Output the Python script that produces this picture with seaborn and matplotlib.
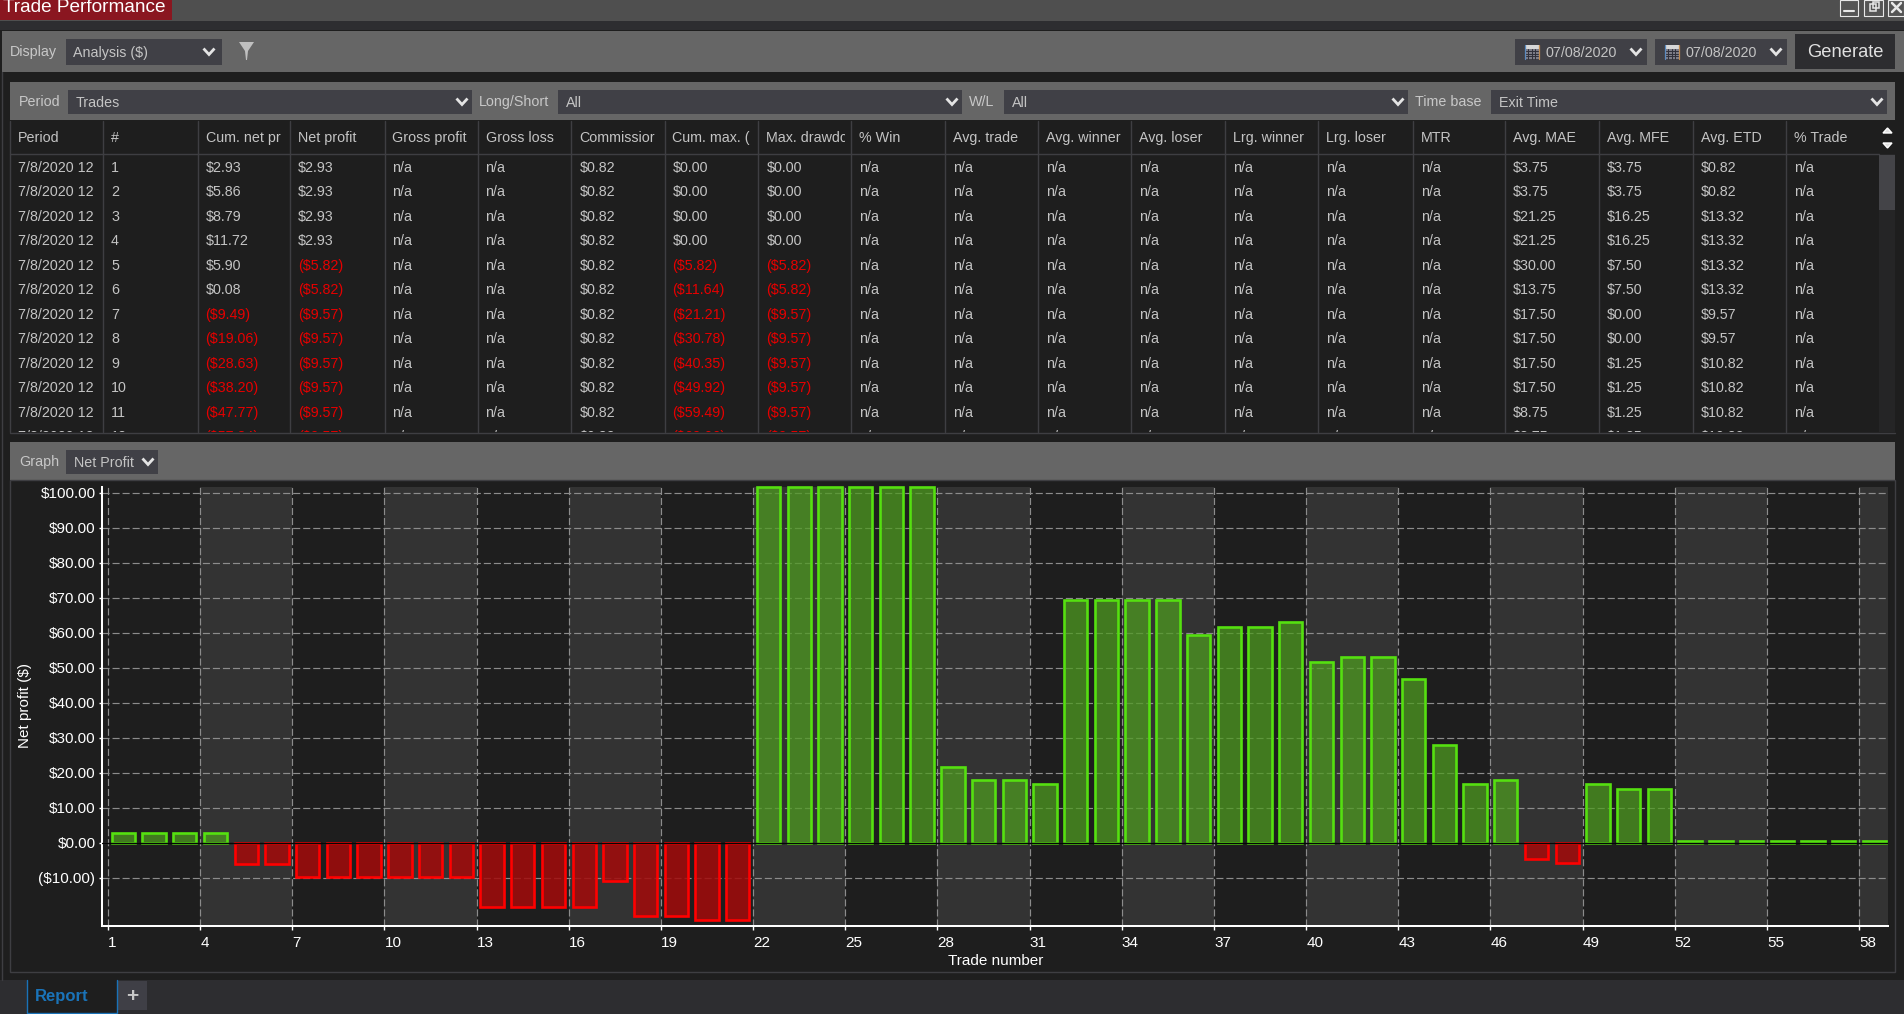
import matplotlib
matplotlib.use("Agg")
import matplotlib.pyplot as plt
from matplotlib.patches import Rectangle, Polygon
from matplotlib.colors import to_rgba
from matplotlib.transforms import ScaledTranslation
import pandas as pd
import seaborn as sns

sns.set_theme(style="dark")
plt.rcParams["font.family"] = ["Liberation Sans", "DejaVu Sans"]

# ---------- chart data ----------
trade_numbers = list(range(1, 59))
net_profit_values = [
    2.93, 2.93, 2.93, 2.93, -5.82, -5.82, -9.57, -9.57, -9.57, -9.57,
    -9.57, -9.57, -18.3, -18.3, -18.3, -18.3, -10.8, -20.8, -20.8, -22.0,
    -22.0, 101.8, 101.8, 101.8, 101.8, 101.8, 101.8, 21.7, 18.1, 18.1,
    16.9, 69.5, 69.5, 69.5, 69.5, 59.4, 61.9, 61.9, 63.2, 51.9,
    53.1, 53.1, 46.9, 28.1, 16.9, 18.1, -4.57, -5.7, 16.9, 15.6,
    15.6, 0.6, 0.6, 0.6, 0.6, 0.6, 0.6, 0.6,
]
y_ticks = [-10, 0, 10, 20, 30, 40, 50, 60, 70, 80, 90, 100]
y_tick_labels = ["($10.00)", "$0.00", "$10.00", "$20.00", "$30.00", "$40.00",
                 "$50.00", "$60.00", "$70.00", "$80.00", "$90.00", "$100.00"]
x_ticks = list(range(1, 59, 3))

# ---------- table data ----------
headers = ["Period", "#", "Cum. net pr", "Net profit", "Gross profit", "Gross loss",
           "Commissior", "Cum. max. (", "Max. drawdc", "% Win", "Avg. trade",
           "Avg. winner", "Avg. loser", "Lrg. winner", "Lrg. loser", "MTR",
           "Avg. MAE", "Avg. MFE", "Avg. ETD", "% Trade"]
period_col = ["7/8/2020 12"] * 12
number_col = [str(i) for i in range(1, 13)]
cum_net_col = ["$2.93", "$5.86", "$8.79", "$11.72", "$5.90", "$0.08", "($9.49)", "($19.06)",
               "($28.63)", "($38.20)", "($47.77)", "($57.34)"]
net_col = ["$2.93"] * 4 + ["($5.82)"] * 2 + ["($9.57)"] * 6
commission_col = ["$0.82"] * 12
cum_max_col = ["$0.00"] * 4 + ["($5.82)", "($11.64)", "($21.21)", "($30.78)", "($40.35)",
                               "($49.92)", "($59.49)", "($69.06)"]
max_dd_col = ["$0.00"] * 4 + ["($5.82)"] * 2 + ["($9.57)"] * 6
mae_col = ["$3.75", "$3.75", "$21.25", "$21.25", "$30.00", "$13.75", "$17.50", "$17.50",
           "$17.50", "$17.50", "$8.75", "$8.75"]
mfe_col = ["$3.75", "$3.75", "$16.25", "$16.25", "$7.50", "$7.50", "$0.00", "$0.00",
           "$1.25", "$1.25", "$1.25", "$1.25"]
etd_col = ["$0.82", "$0.82", "$13.32", "$13.32", "$13.32", "$13.32", "$9.57", "$9.57",
           "$10.82", "$10.82", "$10.82", "$10.82"]
na_col = ["n/a"] * 12
columns = [period_col, number_col, cum_net_col, net_col, na_col, na_col, commission_col,
           cum_max_col, max_dd_col, na_col, na_col, na_col, na_col, na_col, na_col, na_col,
           mae_col, mfe_col, etd_col, na_col]

W, H = 1904, 1014
fig = plt.figure(figsize=(W / 100, H / 100), dpi=100, facecolor="#1e1e1e")
ui = fig.add_axes([0, 0, 1, 1])
ui.set_xlim(0, W)
ui.set_ylim(H, 0)
ui.axis("off")


def box(x0, y0, x1, y1, color, z=1, **kw):
    ui.add_patch(Rectangle((x0, y0), x1 - x0, y1 - y0, facecolor=color, edgecolor="none", zorder=z, **kw))


def label(x, y, s, size=10.3, color="#c4c4c4", ha="left", z=5, **kw):
    return ui.text(x, y + 1, s, fontsize=size, color=color, ha=ha, va="center", zorder=z, **kw)


def chevron(x, y, color="#e4e4e4"):
    ui.plot([x - 5.5, x, x + 5.5], [y - 3, y + 3, y - 3], color=color, lw=2.0, zorder=6,
            solid_capstyle="butt", solid_joinstyle="miter")


def calendar(x, y):
    ui.add_patch(Rectangle((x, y), 14, 14, facecolor="#7c7c86", edgecolor="none", zorder=3))
    ui.add_patch(Rectangle((x, y), 14, 3.5, facecolor="#d8d8d8", edgecolor="none", zorder=4))
    ui.plot([x, x], [y, y + 14], color="#5a8ac0", lw=0.9, zorder=4)
    ui.plot([x + 14, x + 14], [y, y + 14], color="#c08a50", lw=0.9, zorder=4)
    for k in range(1, 4):
        ui.plot([x + 1, x + 13], [y + 3.5 + 2.6 * k] * 2, color="#30303a", lw=0.7, zorder=4)
        ui.plot([x + 3.5 * k, x + 3.5 * k], [y + 4, y + 14], color="#30303a", lw=0.7, zorder=4)


# window chrome
box(0, 0, W, 21, "#4f4f4f")
box(0, 21, W, 30, "#2d2d30")
box(0, 0, 172, 20, "#8a1620", z=2)
label(3, 6, "Trade Performance", size=13.7, color="#ffffff")
for x0, x1 in [(1840, 1858), (1864, 1883), (1888, 1904)]:
    ui.add_patch(Rectangle((x0, 0), x1 - x0, 16, facecolor="#555555", edgecolor="#e8e8e8", lw=0.8, zorder=3))
ui.plot([1844, 1854], [11, 11], color="#e8e8e8", lw=1.5, zorder=4)
ui.add_patch(Rectangle((1870, 4), 6, 7, facecolor="none", edgecolor="#e8e8e8", lw=1.1, zorder=4))
ui.add_patch(Rectangle((1873, 2), 6, 6, facecolor="none", edgecolor="#e8e8e8", lw=1.1, zorder=4))
ui.plot([1892, 1901], [3, 12], color="#e8e8e8", lw=1.8, zorder=4)
ui.plot([1892, 1901], [12, 3], color="#e8e8e8", lw=1.8, zorder=4)

# display bar
box(2, 31, W, 72, "#666666")
label(10, 51, "Display", color="#c8c8c8")
box(66, 39, 222, 65, "#404046", z=2)
label(73, 52, "Analysis ($)")
chevron(209, 51.5)
ui.add_patch(Polygon([(239, 42), (254, 42), (248, 51), (247, 60), (246, 60), (245, 51)],
                     facecolor="#c0c0c0", edgecolor="none", zorder=3))
for x0, x1 in [(1515, 1647), (1655, 1787)]:
    box(x0, 39, x1, 65, "#404046", z=2)
    calendar(x0 + 9.5, 45)
    label(x0 + 31, 52, "07/08/2020")
    chevron(x1 - 11, 51.5)
box(1795, 34, 1895, 69, "#2d2d30", z=2)
label(1845, 51.5, "Generate", size=13.2, color="#e0e0e0", ha="center")

# filter bar
box(10, 82, 1895, 120, "#666666")
label(19, 101, "Period", color="#c8c8c8")
box(68, 90, 472, 114, "#404046", z=2)
label(76, 102, "Trades")
chevron(462, 101.5)
label(479, 101, "Long/Short", color="#c8c8c8")
box(558, 90, 962, 114, "#404046", z=2)
label(566, 102, "All")
chevron(952, 101.5)
label(969, 101, "W/L", color="#c8c8c8")
box(1004, 90, 1408, 114, "#404046", z=2)
label(1012, 102, "All")
chevron(1398, 101.5)
label(1415, 101, "Time base", color="#c8c8c8")
box(1491, 90, 1887, 114, "#404046", z=2)
label(1499, 102, "Exit Time")
chevron(1877, 101.5)

# table
col_edges = [10, 103, 197.5, 290, 384.5, 477.5, 571.4, 664.5, 758.4, 851.4, 945.3, 1038.4,
             1131.4, 1225.3, 1318.3, 1412.6, 1505.2, 1599, 1692.6, 1786.4, 1879]
row_y = [166.7, 190.7, 215.7, 239.7, 264.7, 288.7, 314, 338, 362.7, 386.7, 411.7, 436]
grid_c = "#3e3e42"
for x in col_edges[1:-1]:
    ui.plot([x, x], [121, 432], color=grid_c, lw=1, zorder=3)
ui.plot([10, 1879], [153.5, 153.5], color=grid_c, lw=1, zorder=3)
ui.plot([10, 10], [121, 432], color=grid_c, lw=1, zorder=3)
ui.plot([10, 1895], [432.5, 432.5], color=grid_c, lw=1, zorder=7)
for c, (hdr, values) in enumerate(zip(headers, columns)):
    x0, x1 = col_edges[c], col_edges[c + 1]
    t = label(x0 + 8, 137.3, hdr, color="#c4c4c4", clip_on=True)
    t.set_clip_path(Rectangle((x0, 121), x1 - x0 - 6, 32, transform=ui.transData))
    for y, v in zip(row_y, values):
        col = "#e60000" if v.startswith("(") else "#c4c4c4"
        t = label(x0 + 8, y, v, color=col, clip_on=True)
        t.set_clip_path(Rectangle((x0, 154), x1 - x0, 278, transform=ui.transData))

# scrollbar
box(1879, 154, 1895, 432, "#252526", z=2)
box(1879, 155, 1895, 210, "#444448", z=3)
ui.add_patch(Polygon([(1883, 133), (1892, 133), (1887.5, 128)], facecolor="#e0e0e0", zorder=4))
ui.add_patch(Polygon([(1883, 143), (1892, 143), (1887.5, 148)], facecolor="#e0e0e0", zorder=4))

# graph bar
box(10, 442, 1895, 480, "#666666")
label(19, 461, "Graph", color="#c8c8c8")
box(66, 450, 158, 474, "#404046", z=2)
label(74, 462, "Net Profit")
chevron(148, 461.5)

# outlines and tab strip
ui.add_patch(Rectangle((10, 480), 1885, 492, facecolor="none", edgecolor="#3e3e42", lw=1, zorder=2))
box(0, 980, W, H, "#2d2d30", z=2)
ui.plot([2, 2], [72, 980], color="#3e3e42", lw=1, zorder=3)
box(27, 980, 117, H, "#1e1e1e", z=3)
ui.plot([27, 27, 117, 117], [980, 1013, 1013, 980], color="#1a73b8", lw=1, zorder=4)
label(35, 995, "Report", size=12, color="#1a73b8", fontweight="bold")
box(118, 981, 147, 1010, "#3f3f46", z=3)
label(132.5, 995, "+", size=15, color="#c8c8c8", ha="center", fontweight="bold")

# ---------- chart ----------
AX_L, AX_R, AX_T, AX_B = 102, 1888, 487, 925.7
ax = fig.add_axes([AX_L / W, 1 - AX_B / H, (AX_R - AX_L) / W, (AX_B - AX_T) / H], facecolor="#1e1e1e")

df = pd.DataFrame({"trade": trade_numbers, "net": net_profit_values})
df["pos"] = df["trade"] + 0.5
df["side"] = ["win" if v >= 0 else "loss" for v in df["net"]]

sns.barplot(data=df, x="pos", y="net", hue="side", hue_order=["win", "loss"],
            palette={"win": "#55e010", "loss": "#ff0000"}, native_scale=True, dodge=False,
            width=0.76, saturation=1, legend=False, linewidth=1.9, ax=ax, zorder=2)

styles = [("#55e010", to_rgba("#4e9b20", 0.74)), ("#ff0000", to_rgba("#a30b0b", 0.86))]
for container, (edge, face) in zip(ax.containers, styles):
    for bar in container:
        bar.set_edgecolor(edge)
        bar.set_facecolor(face)
        bar.set_clip_on(False)

for start in x_ticks[1::2]:
    ax.axvspan(start, start + 3, facecolor="#333333", edgecolor="none", zorder=0)

ax.set_xlim(0.805, 58.94)
ax.set_ylim(-23.54, 101.8)
ax.set_axisbelow(True)
ax.grid(True, color="#8c8c8c", lw=0.85, linestyle=(0, (6, 2.5)), zorder=1)
for line in ax.get_xgridlines() + ax.get_ygridlines():
    line.set_zorder(1)
ax.axhline(0, color="#050505", lw=1, zorder=3)

ax.set_xticks(x_ticks)
ax.set_xticklabels([str(v) for v in x_ticks], ha="left")
ax.set_yticks(y_ticks)
ax.set_yticklabels(y_tick_labels)
ax.tick_params(axis="x", colors="#ffffff", labelsize=11, length=3, width=1, pad=4.5, bottom=True)
ax.tick_params(axis="y", colors="#ffffff", labelsize=11, length=2.5, width=1, pad=2.2, left=True)
shift_up = ScaledTranslation(0, 1 / 100, fig.dpi_scale_trans)
for tick_label in ax.get_yticklabels():
    tick_label.set_transform(tick_label.get_transform() + shift_up)
ax.set_xlabel("Trade number", color="#ffffff", fontsize=11, va="center")
ax.set_ylabel("Net profit ($)", color="#ffffff", fontsize=11, va="center")
ax.xaxis.set_label_coords(0.5003, -0.0805)
ax.yaxis.set_label_coords(-0.0430, 0.503)
for side in ("top", "right"):
    ax.spines[side].set_visible(False)
for side in ("left", "bottom"):
    ax.spines[side].set_color("#ffffff")
    ax.spines[side].set_linewidth(1.45)

fig.savefig("out.png", dpi=100, facecolor=fig.get_facecolor())
